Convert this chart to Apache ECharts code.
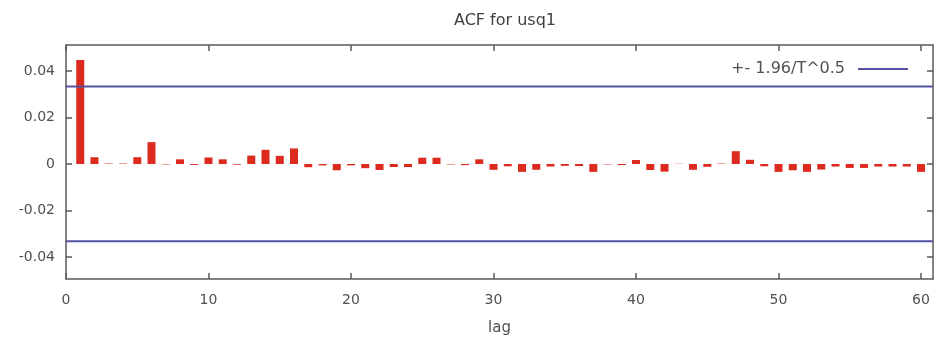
<!DOCTYPE html>
<html>
<head>
<meta charset="utf-8">
<script src="https://cdn.jsdelivr.net/npm/echarts@6/dist/echarts.min.js"></script>
<style>html,body{margin:0;padding:0;background:#fff}#c{width:938px;height:343px}</style>
</head>
<body>
<div id="c"></div>
<script>
// ---- data ----
const lags = [1,2,3,4,5,6,7,8,9,10,11,12,13,14,15,16,17,18,19,20,
              21,22,23,24,25,26,27,28,29,30,31,32,33,34,35,36,37,38,39,40,
              41,42,43,44,45,46,47,48,49,50,51,52,53,54,55,56,57,58,59,60];
const acf = [0.0447,0.0029,0.0002,0.0002,0.0029,0.0094,-0.0002,0.0020,-0.0004,0.0028,
             0.0020,-0.0003,0.0036,0.0061,0.0035,0.0067,-0.0014,-0.0006,-0.0027,-0.0006,
             -0.0018,-0.0026,-0.0013,-0.0013,0.0027,0.0027,-0.0002,-0.0005,0.0020,-0.0025,
             -0.0010,-0.0034,-0.0025,-0.0011,-0.0008,-0.0009,-0.0034,-0.0002,-0.0005,0.0017,
             -0.0026,-0.0033,0.0001,-0.0025,-0.0012,0.0002,0.0055,0.0018,-0.0010,-0.0034,
             -0.0027,-0.0034,-0.0024,-0.0011,-0.0017,-0.0017,-0.0011,-0.0011,-0.0011,-0.0034];
const ciBand = 0.0333;
const ciName = '+- 1.96/T^0.5';
const xTicks = [0,10,20,30,40,50,60];
const yTicks = [-0.04,-0.02,0,0.02,0.04];
const xRange = [0, 60.84];
const yRange = [-0.0495, 0.0512];

// ---- chart ----
const chart = echarts.init(document.getElementById('c'), null, {renderer:'canvas'});
const FONT = 'DejaVu Sans';
const axisCol = '#5a5a5a';
const labelCol = '#505050';
const blue = '#5552a2';
const red = '#dc2a1e';

function xAxisDef(pos, showLabel) {
  return {
    type:'value', position:pos, min:xRange[0], max:xRange[1],
    axisLine:{show:true, onZero:false, lineStyle:{color:axisCol, width:1.5}},
    axisTick:{show:true, inside:true, length:6, customValues:xTicks, lineStyle:{color:axisCol, width:1.5}},
    axisLabel:{show:showLabel, customValues:xTicks, margin:14, color:labelCol, fontFamily:FONT, fontSize:14},
    splitLine:{show:false},
    name: showLabel ? 'lag' : '', nameLocation:'middle', nameGap:42,
    nameTextStyle:{color:labelCol, fontFamily:FONT, fontSize:15}
  };
}
function yAxisDef(pos, showLabel) {
  return {
    type:'value', position:pos, min:yRange[0], max:yRange[1],
    axisLine:{show:true, onZero:false, lineStyle:{color:axisCol, width:1.5}},
    axisTick:{show:true, inside:true, length:6, customValues:yTicks, lineStyle:{color:axisCol, width:1.5}},
    axisLabel:{show:showLabel, customValues:yTicks, margin:11, color:labelCol, fontFamily:FONT, fontSize:14,
               formatter: v => (Math.abs(v) < 1e-12 ? '0' : String(+v.toFixed(2)))},
    splitLine:{show:false}
  };
}

const option = {
  backgroundColor:'#ffffff',
  animation:false,
  title:{text:'ACF for usq1', left:500, textAlign:'center', top:8,
         textStyle:{color:'#3f3f3f', fontFamily:FONT, fontSize:16, fontWeight:'normal'}},
  grid:{left:66, right:5, top:45, bottom:64, containLabel:false},
  legend:{
    data:[{name:ciName, icon:'rect'}],
    right:25, top:56, align:'right', itemWidth:50, itemHeight:2, itemGap:10,
    textStyle:{color:labelCol, fontFamily:FONT, fontSize:16, padding:[0,8,0,0]},
    selectedMode:false
  },
  xAxis:[xAxisDef('bottom', true), xAxisDef('top', false)],
  yAxis:[yAxisDef('left', true), yAxisDef('right', false)],
  series:[
    {
      type:'bar', name:'acf', xAxisIndex:0, yAxisIndex:0,
      data: lags.map((l,i)=>[l, acf[i]]),
      barWidth:8, itemStyle:{color:red}, z:2
    },
    {
      type:'line', name:ciName, xAxisIndex:0, yAxisIndex:0, symbol:'none',
      data:[[xRange[0], ciBand],[xRange[1], ciBand]],
      lineStyle:{color:blue, width:2}, itemStyle:{color:blue}, z:3, silent:true
    },
    {
      type:'line', name:ciName, xAxisIndex:0, yAxisIndex:0, symbol:'none',
      data:[[xRange[0], -ciBand],[xRange[1], -ciBand]],
      lineStyle:{color:blue, width:2}, itemStyle:{color:blue}, z:3, silent:true
    }
  ]
};
chart.setOption(option);
</script>
</body>
</html>
